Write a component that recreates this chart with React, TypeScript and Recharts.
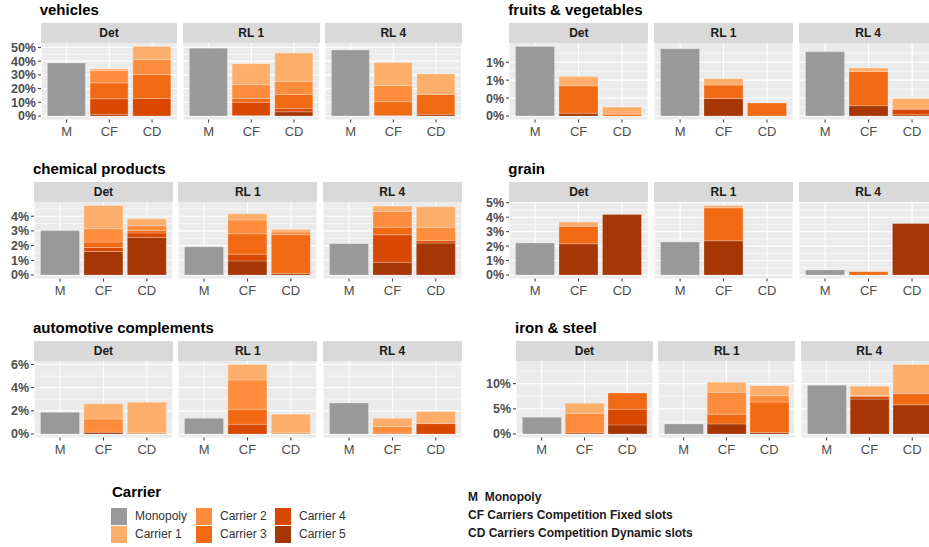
import { Bar, BarChart, CartesianGrid, XAxis, YAxis } from 'recharts';

const SCENARIOS = ['Det', 'RL 1', 'RL 4'];
const CATEGORIES = ['M', 'CF', 'CD'];

const COLORS: Record<string, string> = {
  monopoly: '#999999',
  c1: '#FDAE6B',
  c2: '#FD8D3C',
  c3: '#F16913',
  c4: '#D94801',
  c5: '#A63603',
};
// stacked bottom -> top
const STACK_KEYS = ['monopoly', 'c5', 'c4', 'c3', 'c2', 'c1'];

// Monopoly arrays: one value per scenario (Det, RL 1, RL 4), in %
// Carrier arrays: [Det CF, Det CD, RL1 CF, RL1 CD, RL4 CF, RL4 CD], in %

const VEH_MONOPOLY = [38.7, 49.5, 48.1];
const VEH_C1 = [1.4, 9.6, 15.3, 20.5, 16.9, 15.0];
const VEH_C2 = [8.9, 10.9, 10.1, 9.7, 11.8, 0];
const VEH_C3 = [11.6, 17.4, 2.7, 10.1, 10.0, 14.5];
const VEH_C4 = [11.4, 12.8, 9.8, 2.5, 0, 0];
const VEH_C5 = [1.2, 0, 0.3, 3.1, 0.4, 1.2];
const VEH_TICKS = [0, 10, 20, 30, 40, 50];
const VEH_TICK_LABELS = ['0%', '10%', '20%', '30%', '40%', '50%'];
const VEH_MINOR = [5, 15, 25, 35, 45];

const FRUIT_MONOPOLY = [1.55, 1.5, 1.43];
const FRUIT_C1 = [0.21, 0.16, 0.14, 0, 0.08, 0.24];
const FRUIT_C2 = [0, 0, 0, 0, 0, 0];
const FRUIT_C3 = [0.61, 0.04, 0.3, 0.29, 0.76, 0];
const FRUIT_C4 = [0, 0, 0, 0, 0, 0.12];
const FRUIT_C5 = [0.06, 0, 0.39, 0, 0.23, 0.03];
const FRUIT_TICKS = [0, 0.4, 0.8, 1.2];
const FRUIT_TICK_LABELS = ['0%', '0%', '1%', '1%'];
const FRUIT_MINOR = [0.2, 0.6, 1.0, 1.4];

const CHEM_MONOPOLY = [3.02, 1.92, 2.13];
const CHEM_C1 = [1.58, 0.46, 0.41, 0.16, 0.35, 1.39];
const CHEM_C2 = [0.91, 0.34, 0.94, 0.19, 1.09, 0.92];
const CHEM_C3 = [0.37, 0.16, 1.39, 2.63, 0.51, 0];
const CHEM_C4 = [0.27, 0.3, 0.46, 0, 1.87, 0.16];
const CHEM_C5 = [1.6, 2.56, 0.96, 0.11, 0.87, 2.17];
const CHEM_TICKS = [0, 1, 2, 3, 4];
const CHEM_TICK_LABELS = ['0%', '1%', '2%', '3%', '4%'];
const CHEM_MINOR = [0.5, 1.5, 2.5, 3.5, 4.5];

const GRAIN_MONOPOLY = [2.21, 2.28, 0.35];
const GRAIN_C1 = [0.3, 0, 0.16, 0, 0, 0];
const GRAIN_C2 = [0, 0, 0, 0, 0, 0];
const GRAIN_C3 = [1.21, 0, 2.28, 0, 0.23, 0];
const GRAIN_C4 = [0, 0, 0, 0, 0, 0];
const GRAIN_C5 = [2.16, 4.19, 2.37, 0, 0, 3.56];
const GRAIN_TICKS = [0, 1, 2, 3, 4, 5];
const GRAIN_TICK_LABELS = ['0%', '1%', '2%', '3%', '4%', '5%'];
const GRAIN_MINOR = [0.5, 1.5, 2.5, 3.5, 4.5];

const AUTO_MONOPOLY = [1.88, 1.36, 2.67];
const AUTO_C1 = [1.31, 2.65, 1.33, 1.61, 0.72, 1.04];
const AUTO_C2 = [1.15, 0.1, 2.53, 0.1, 0.56, 0];
const AUTO_C3 = [0, 0, 1.3, 0, 0.08, 0];
const AUTO_C4 = [0, 0, 0.84, 0, 0, 0.9];
const AUTO_C5 = [0.15, 0, 0, 0, 0, 0];
const AUTO_TICKS = [0, 2, 4, 6];
const AUTO_TICK_LABELS = ['0%', '2%', '4%', '6%'];
const AUTO_MINOR = [1, 3, 5];

const IRON_MONOPOLY = [3.33, 2.0, 9.67];
const IRON_C1 = [2.0, 0, 2.0, 2.0, 1.81, 5.8];
const IRON_C2 = [3.93, 0, 4.34, 1.27, 0, 0];
const IRON_C3 = [0, 3.2, 1.93, 6.03, 0.2, 2.2];
const IRON_C4 = [0, 3.13, 0, 0, 0.53, 0];
const IRON_C5 = [0.2, 1.8, 2.0, 0.3, 6.93, 5.8];
const IRON_TICKS = [0, 5, 10];
const IRON_TICK_LABELS = ['0%', '5%', '10%'];
const IRON_MINOR = [2.5, 7.5, 12.5];

const FONT = "'Liberation Sans', Arial, Helvetica, sans-serif";
const PANEL_H = 76.5;
const X_AXIS_H = 22;
const TOP_PAD = 8;
const AXIS_W = 40;
const GAP = 5.5;
const ROW_TOPS = [23.3, 182.3, 341];

type Group = {
  title: string;
  monopoly: number[];
  carriers: Record<string, number[]>;
  ticks: number[];
  tickLabels: string[];
  minor: number[];
  panelLeft: number;
  right: number;
  row: number;
};

const GROUPS: Group[] = [
  {
    title: 'vehicles', monopoly: VEH_MONOPOLY,
    carriers: { c1: VEH_C1, c2: VEH_C2, c3: VEH_C3, c4: VEH_C4, c5: VEH_C5 },
    ticks: VEH_TICKS, tickLabels: VEH_TICK_LABELS, minor: VEH_MINOR,
    panelLeft: 40.7, right: 461.7, row: 0,
  },
  {
    title: 'fruits & vegetables', monopoly: FRUIT_MONOPOLY,
    carriers: { c1: FRUIT_C1, c2: FRUIT_C2, c3: FRUIT_C3, c4: FRUIT_C4, c5: FRUIT_C5 },
    ticks: FRUIT_TICKS, tickLabels: FRUIT_TICK_LABELS, minor: FRUIT_MINOR,
    panelLeft: 509.3, right: 937.7, row: 0,
  },
  {
    title: 'chemical products', monopoly: CHEM_MONOPOLY,
    carriers: { c1: CHEM_C1, c2: CHEM_C2, c3: CHEM_C3, c4: CHEM_C4, c5: CHEM_C5 },
    ticks: CHEM_TICKS, tickLabels: CHEM_TICK_LABELS, minor: CHEM_MINOR,
    panelLeft: 34, right: 461.7, row: 1,
  },
  {
    title: 'grain', monopoly: GRAIN_MONOPOLY,
    carriers: { c1: GRAIN_C1, c2: GRAIN_C2, c3: GRAIN_C3, c4: GRAIN_C4, c5: GRAIN_C5 },
    ticks: GRAIN_TICKS, tickLabels: GRAIN_TICK_LABELS, minor: GRAIN_MINOR,
    panelLeft: 509.3, right: 937.7, row: 1,
  },
  {
    title: 'automotive complements', monopoly: AUTO_MONOPOLY,
    carriers: { c1: AUTO_C1, c2: AUTO_C2, c3: AUTO_C3, c4: AUTO_C4, c5: AUTO_C5 },
    ticks: AUTO_TICKS, tickLabels: AUTO_TICK_LABELS, minor: AUTO_MINOR,
    panelLeft: 34, right: 461.7, row: 2,
  },
  {
    title: 'iron & steel', monopoly: IRON_MONOPOLY,
    carriers: { c1: IRON_C1, c2: IRON_C2, c3: IRON_C3, c4: IRON_C4, c5: IRON_C5 },
    ticks: IRON_TICKS, tickLabels: IRON_TICK_LABELS, minor: IRON_MINOR,
    panelLeft: 516, right: 937.7, row: 2,
  },
];

function buildRows(g: Group, s: number) {
  return CATEGORIES.map((cat, ci) => {
    const row: Record<string, string | number> = { cat };
    if (ci === 0) {
      row.monopoly = g.monopoly[s];
    } else {
      const idx = s * 2 + (ci - 1);
      for (const k of Object.keys(g.carriers)) row[k] = g.carriers[k][idx];
    }
    return row;
  });
}

function groupMax(g: Group) {
  let max = Math.max(...g.monopoly);
  for (let i = 0; i < 6; i++) {
    let sum = 0;
    for (const k of Object.keys(g.carriers)) sum += g.carriers[k][i];
    max = Math.max(max, sum);
  }
  return max;
}

function Facet({ g, s, left, top, width }: { g: Group; s: number; left: number; top: number; width: number }) {
  const showAxis = s === 0;
  const axisW = showAxis ? AXIS_W : 0;
  const max = groupMax(g);
  const domain = [-0.05 * max, 1.05 * max];
  const pad = (width * 0.1) / 3.2;
  const data = buildRows(g, s);
  const label = (v: number) => {
    const i = g.ticks.findIndex((t) => Math.abs(t - v) < 1e-9);
    return i >= 0 ? g.tickLabels[i] : '';
  };
  return (
    <div style={{ position: 'absolute', left: left - axisW, top: top - TOP_PAD }}>
      <BarChart
        width={width + axisW}
        height={PANEL_H + X_AXIS_H + TOP_PAD}
        data={data}
        margin={{ top: TOP_PAD, right: 0, bottom: 0, left: 0 }}
        barCategoryGap="5%"
      >
        <CartesianGrid fill="#EBEBEB" stroke="#FFFFFF" strokeWidth={1.1} horizontalValues={g.ticks} />
        <CartesianGrid stroke="#FFFFFF" strokeWidth={0.55} vertical={false} horizontalValues={g.minor} />
        <XAxis
          dataKey="cat"
          interval={0}
          padding={{ left: pad, right: pad }}
          axisLine={false}
          tickSize={3}
          tickMargin={4}
          height={X_AXIS_H}
          tickLine={{ stroke: '#333333' }}
          tick={{ fontSize: 13, fill: '#4D4D4D', fontFamily: FONT }}
        />
        <YAxis
          type="number"
          domain={domain}
          allowDataOverflow
          ticks={g.ticks}
          interval={0}
          hide={!showAxis}
          width={axisW}
          axisLine={false}
          tickSize={3}
          tickMargin={2}
          tickLine={{ stroke: '#333333' }}
          tickFormatter={label}
          tick={{ fontSize: 12.5, fontWeight: 'bold', fill: '#4D4D4D', fontFamily: FONT }}
        />
        {STACK_KEYS.map((k) => (
          <Bar
            key={k}
            dataKey={k}
            stackId="a"
            fill={COLORS[k]}
            stroke="rgba(255,255,255,0.3)"
            strokeWidth={0.8}
            isAnimationActive={false}
          />
        ))}
      </BarChart>
    </div>
  );
}

function GroupBlock({ g }: { g: Group }) {
  const pw = (g.right - g.panelLeft - 2 * GAP) / 3;
  const stripTop = ROW_TOPS[g.row];
  return (
    <>
      <div
        style={{
          position: 'absolute', left: g.panelLeft - 1, top: stripTop - 23, height: 20, lineHeight: '20px',
          fontSize: 15, fontWeight: 'bold', color: '#000', fontFamily: FONT, whiteSpace: 'nowrap',
        }}
      >
        {g.title}
      </div>
      {SCENARIOS.map((name, s) => {
        const x = g.panelLeft + s * (pw + GAP);
        return (
          <div key={name}>
            <div
              style={{
                position: 'absolute', left: x, top: stripTop, width: pw, height: 20, background: '#D9D9D9',
                textAlign: 'center', lineHeight: '20px', fontSize: 12, fontWeight: 'bold', color: '#1A1A1A',
                fontFamily: FONT,
              }}
            >
              {name}
            </div>
            <Facet g={g} s={s} left={x} top={stripTop + 20} width={pw} />
          </div>
        );
      })}
    </>
  );
}

const LEGEND_ITEMS = [
  { key: 'monopoly', label: 'Monopoly', col: 0, row: 0 },
  { key: 'c1', label: 'Carrier 1', col: 0, row: 1 },
  { key: 'c2', label: 'Carrier 2', col: 1, row: 0 },
  { key: 'c3', label: 'Carrier 3', col: 1, row: 1 },
  { key: 'c4', label: 'Carrier 4', col: 2, row: 0 },
  { key: 'c5', label: 'Carrier 5', col: 2, row: 1 },
];
const LEGEND_COL_X = [111, 196, 275];
const NOTES = ['M  Monopoly', 'CF Carriers Competition Fixed slots', 'CD Carriers Competition Dynamic slots'];

export default function App() {
  return (
    <div
      style={{
        position: 'fixed', left: 0, top: 0, width: 929, height: 547, overflow: 'hidden',
        background: '#FFFFFF', fontFamily: FONT,
      }}
    >
      {GROUPS.map((g) => (
        <GroupBlock key={g.title} g={g} />
      ))}
      <div style={{ position: 'absolute', left: 112, top: 483, fontSize: 15, fontWeight: 'bold', color: '#000' }}>
        Carrier
      </div>
      {LEGEND_ITEMS.map((it) => (
        <div key={it.key}>
          <div
            style={{
              position: 'absolute', left: LEGEND_COL_X[it.col], top: 507.5 + it.row * 18, width: 16, height: 17,
              background: COLORS[it.key],
            }}
          />
          <div
            style={{
              position: 'absolute', left: LEGEND_COL_X[it.col] + 24, top: 507.5 + it.row * 18, height: 17,
              lineHeight: '17px', fontSize: 12, color: '#333333', whiteSpace: 'nowrap',
            }}
          >
            {it.label}
          </div>
        </div>
      ))}
      {NOTES.map((t, i) => (
        <div
          key={t}
          style={{
            position: 'absolute', left: 468, top: 489 + i * 18, height: 16, lineHeight: '16px', fontSize: 12,
            fontWeight: 'bold', color: '#1A1A1A', whiteSpace: 'pre',
          }}
        >
          {t}
        </div>
      ))}
    </div>
  );
}
